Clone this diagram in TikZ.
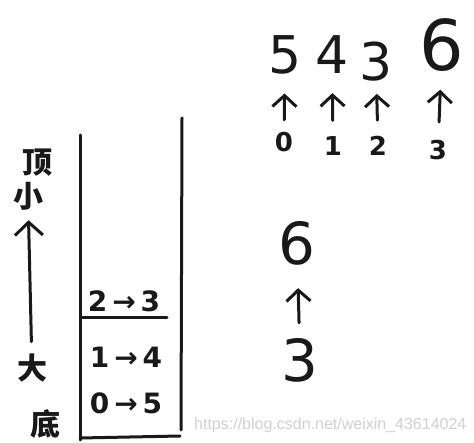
\documentclass[tikz,border=0pt]{standalone}
\usepackage{fontspec}
\setmainfont{DejaVu Sans}
\newfontfamily\cjk{Noto Sans CJK SC}
\newfontfamily\wmfont{Liberation Sans}
\usetikzlibrary{arrows.meta}
\tikzset{
  ink/.style={line width=3pt, line cap=round, line join=round, black!90},
  arr/.style={ink, -{Straight Barb[length=11pt,width=24pt]}},
  bigval/.style={inner sep=0pt, text=black!90, font=\fontsize{52}{52}\selectfont},
  hugeval/.style={inner sep=0pt, text=black!90, font=\fontsize{70}{70}\selectfont},
  midval/.style={inner sep=0pt, text=black!90, font=\fontsize{58}{58}\selectfont},
  idx/.style={inner sep=0pt, text=black!90, font=\bfseries\fontsize{26}{26}\selectfont},
  entry/.style={inner sep=0pt, text=black!90, font=\bfseries\fontsize{28}{28}\selectfont},
  cjklabel/.style={inner sep=0pt, text=black!90, font=\cjk\bfseries\fontsize{30}{30}\selectfont},
  wmark/.style={inner sep=0pt, text=black!18, font=\wmfont\fontsize{16}{16}\selectfont}
}
\begin{document}
\begin{tikzpicture}[x=1pt,y=-1pt]
\useasboundingbox (0,0) rectangle (474,443);
\fill[white] (0,0) rectangle (474,443);

% stack
\coordinate (lt) at (80,135);
\coordinate (lb) at (80,440);
\coordinate (rt) at (182,118);
\coordinate (rb) at (181,430);
\coordinate (bl) at (80,438);
\coordinate (br) at (180,436);
\draw[ink] (lt) -- (lb);
\draw[ink] (rt) -- (rb);
\draw[ink] (bl) -- (br);

\node[entry] (e2) at (124,301) {2\hspace{5pt}→\hspace{5pt}3};
\coordinate (sl) at (82,318);
\coordinate (sr) at (167,318);
\draw[ink] (sl) -- (sr);
\node[entry] (e1) at (126,357) {1\hspace{5pt}→\hspace{5pt}4};
\node[entry] (e0) at (126,403) {0\hspace{5pt}→\hspace{5pt}5};

% left labels
\node[cjklabel] (ding) at (38,163) {顶};
\node[cjklabel] (xiao) at (28,196) {小};
\node[cjklabel] (da) at (32,368) {大};
\node[cjklabel] (di) at (45,424) {底};
\draw[ink, -{Straight Barb[length=13pt,width=28pt]}, shorten <=12pt, shorten >=10pt] (da) -- (xiao);

% top row
\node[bigval] (v5) at (285,55) {5};
\node[bigval] (v4) at (332,55) {4};
\node[bigval] (v3) at (376,62) {3};
\node[hugeval] (v6) at (442,45) {6};
\node[idx] (i0) at (284,142) {0};
\node[idx] (i1) at (333,146) {1};
\node[idx] (i2) at (378,146) {2};
\node[idx] (i3) at (438,150) {3};
\draw[arr, shorten <=12pt, shorten >=19pt] (i0) -- (v5);
\draw[arr, shorten <=16pt, shorten >=19pt] (i1) -- (v4);
\draw[arr, shorten <=16pt, shorten >=12pt] (i2) -- (v3);
\draw[arr, shorten <=18pt, shorten >=18pt] (i3) -- (v6);

% middle
\node[midval] (m6) at (297,243) {6};
\node[midval] (m3) at (300,360) {3};
\draw[arr, shorten <=15pt, shorten >=23pt] (m3) -- (m6);

% watermark
\node[wmark, anchor=west] (wm) at (194,425) {https://blog.csdn.net/weixin\_43614024};
\end{tikzpicture}
\end{document}
